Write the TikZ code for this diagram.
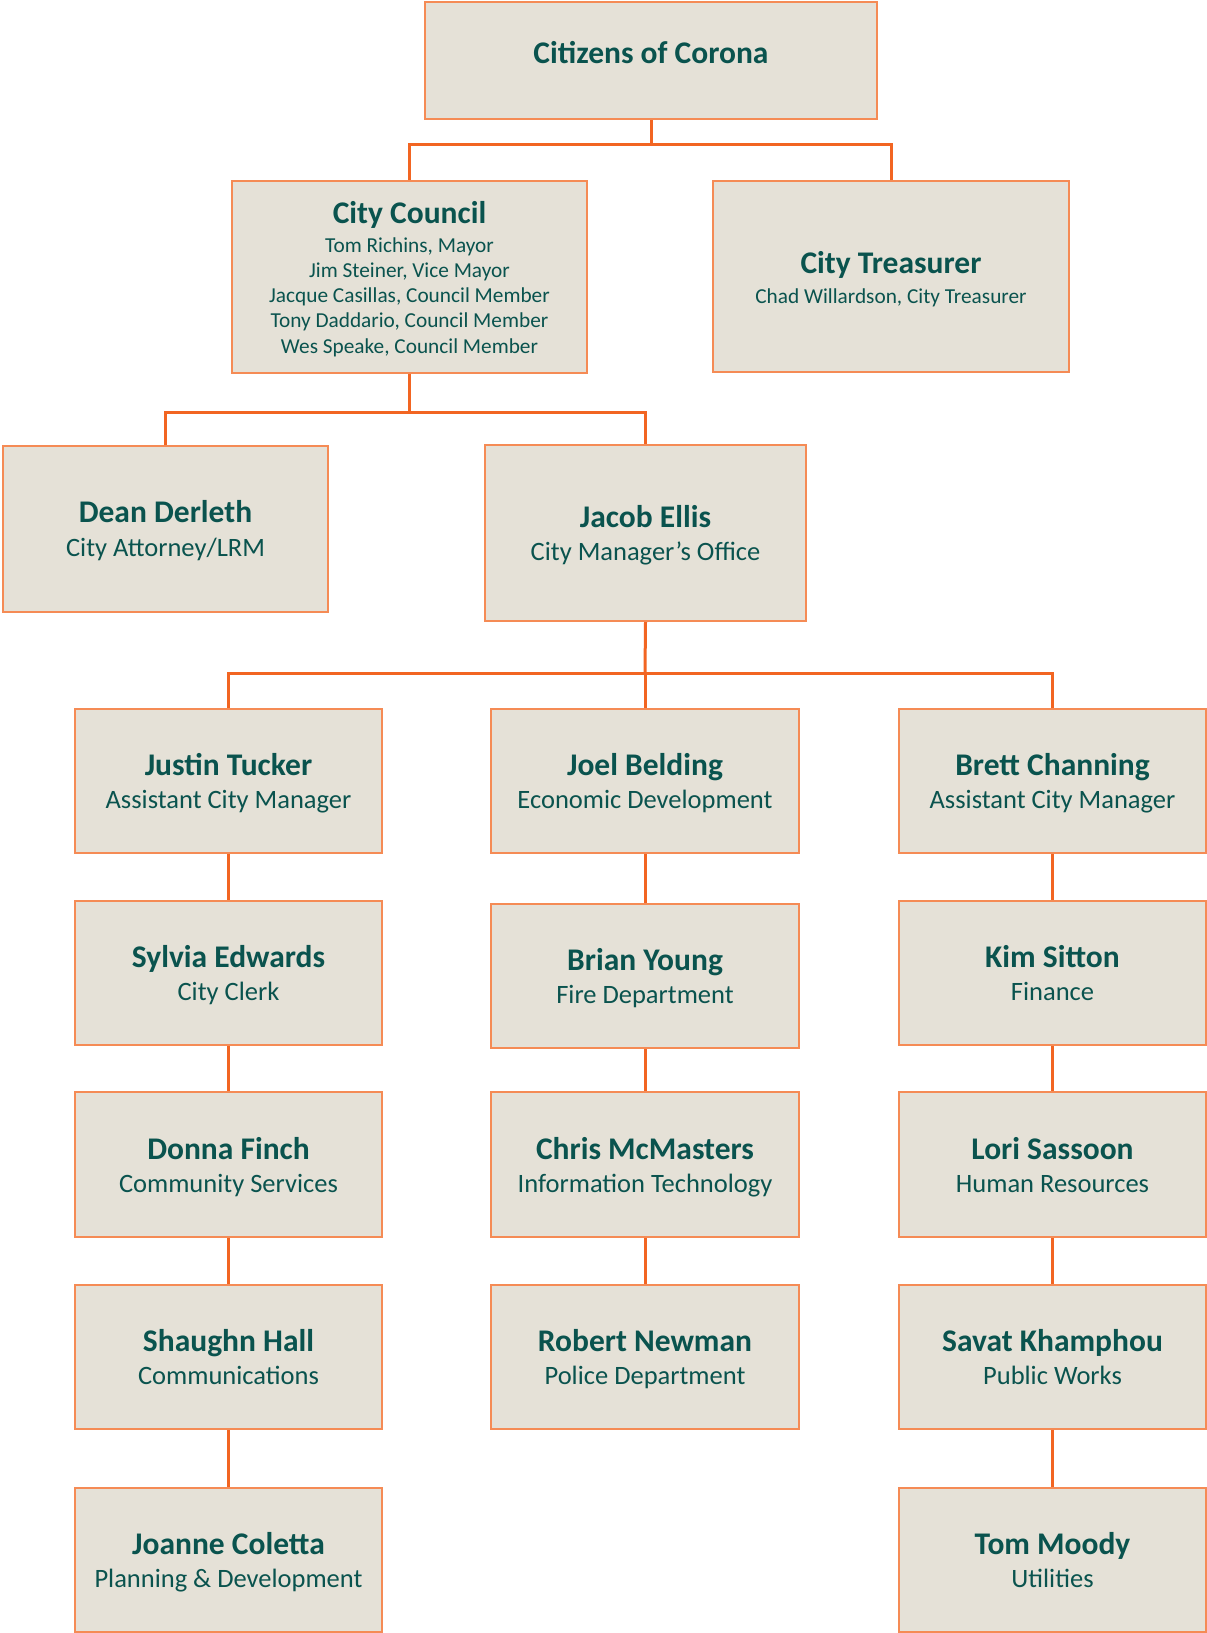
\documentclass[tikz,border=0pt]{standalone}
\usepackage{fontspec}
\setmainfont{Carlito}
\usetikzlibrary{calc}
\definecolor{boxfill}{HTML}{E5E1D7}
\definecolor{bordc}{HTML}{F58B55}
\definecolor{connc}{HTML}{F26522}
\definecolor{txtc}{HTML}{0A534E}
\begin{document}
\begin{tikzpicture}[x=1pt,y=-1pt,
  orgbox/.style={draw=bordc,line width=2pt,fill=boxfill,rectangle,inner sep=0pt,minimum width=#1},
  orgbox/.default=307pt,
  conn/.style={draw=connc,line width=3pt},
  ttl/.style={anchor=base,text=txtc,font=\fontsize{31.5}{36}\selectfont\bfseries,inner sep=0pt},
  sub/.style={anchor=base,text=txtc,font=\fontsize{26.5}{30}\selectfont,inner sep=0pt},
  mem/.style={anchor=base,text=txtc,font=\fontsize{21.3}{25}\selectfont,inner sep=0pt}]
\useasboundingbox[fill=white] (0,0) rectangle (1207,1633);

% boxes
\node[orgbox=452pt,minimum height=117pt] (cit) at (651,60.5) {};
\node[orgbox=355pt,minimum height=192pt] (cc) at (409.5,277) {};
\node[orgbox=356pt,minimum height=191pt] (ct) at (891,276.5) {};
\node[orgbox=325pt,minimum height=166pt] (dd) at (165.5,529) {};
\node[orgbox=321pt,minimum height=176pt] (je) at (645.5,533) {};

\node[orgbox,minimum height=144pt] (jt) at (228.5,781) {};
\node[orgbox,minimum height=144pt] (se) at (228.5,973) {};
\node[orgbox,minimum height=145pt] (df) at (228.5,1164.5) {};
\node[orgbox,minimum height=144pt] (sh) at (228.5,1357) {};
\node[orgbox,minimum height=144pt] (jc) at (228.5,1560) {};

\node[orgbox=308pt,minimum height=144pt] (jb) at (645,781) {};
\node[orgbox=308pt,minimum height=144pt] (by) at (645,976) {};
\node[orgbox=308pt,minimum height=145pt] (cm) at (645,1164.5) {};
\node[orgbox=308pt,minimum height=144pt] (rn) at (645,1357) {};

\node[orgbox=307pt,minimum height=144pt] (bc) at (1052.5,781) {};
\node[orgbox=307pt,minimum height=144pt] (ks) at (1052.5,973) {};
\node[orgbox=307pt,minimum height=145pt] (ls) at (1052.5,1164.5) {};
\node[orgbox=307pt,minimum height=144pt] (sk) at (1052.5,1357) {};
\node[orgbox=307pt,minimum height=144pt] (tm) at (1052.5,1560) {};

% connectors
\coordinate (b1) at (651,144);
\coordinate (b2) at (409.5,412);
\coordinate (b3) at (645,673);
\draw[conn] (cit.south) -- (b1);
\draw[conn] (cc.north) |- (b1) -| (ct.north);
\draw[conn] (cc.south) -- (b2);
\draw[conn] (dd.north) |- (b2) -| (je.north);
\draw[conn] (je.south) -- (b3);
\draw[conn] (jt.north) |- (b3) -| (bc.north);
\draw[conn] (b3) -- (jb.north);
\draw[conn] (jt.south) -- (se.north);
\draw[conn] (se.south) -- (df.north);
\draw[conn] (df.south) -- (sh.north);
\draw[conn] (sh.south) -- (jc.north);
\draw[conn] (jb.south) -- (by.north);
\draw[conn] (by.south) -- (cm.north);
\draw[conn] (cm.south) -- (rn.north);
\draw[conn] (bc.south) -- (ks.north);
\draw[conn] (ks.south) -- (ls.north);
\draw[conn] (ls.south) -- (sk.north);
\draw[conn] (sk.south) -- (tm.north);

% texts
\node[ttl] (cit-t) at ($(cit.center)+(0,2.5)$) {Citizens of Corona};

\node[ttl] (cc-t) at ($(cc.center)+(0,-54)$) {City Council};
\node[mem] (cc-1) at ($(cc.center)+(0,-25)$) {Tom Richins, Mayor};
\node[mem] (cc-2) at ($(cc.center)+(0,0.3)$) {Jim Steiner, Vice Mayor};
\node[mem] (cc-3) at ($(cc.center)+(0,25.6)$) {Jacque Casillas, Council Member};
\node[mem] (cc-4) at ($(cc.center)+(0,50.9)$) {Tony Daddario, Council Member};
\node[mem] (cc-5) at ($(cc.center)+(0,76.2)$) {Wes Speake, Council Member};

\node[ttl] (ct-t) at ($(ct.center)+(0,-3.5)$) {City Treasurer};
\node[mem] (ct-s) at ($(ct.center)+(0,26.5)$) {Chad Willardson, City Treasurer};

\node[ttl] (dd-t) at ($(dd.center)+(0,-7)$) {Dean Derleth};
\node[sub] (dd-s) at ($(dd.center)+(0,27)$) {City Attorney/LRM};

\node[ttl] (je-t) at ($(je.center)+(0,-6)$) {Jacob Ellis};
\node[sub] (je-s) at ($(je.center)+(0,27)$) {City Manager’s Office};

\node[ttl] (jt-t) at ($(jt.center)+(0,-5.5)$) {Justin Tucker};
\node[sub] (jt-s) at ($(jt.center)+(0,27.5)$) {Assistant City Manager};
\node[ttl] (se-t) at ($(se.center)+(0,-5.5)$) {Sylvia Edwards};
\node[sub] (se-s) at ($(se.center)+(0,27.5)$) {City Clerk};
\node[ttl] (df-t) at ($(df.center)+(0,-5.5)$) {Donna Finch};
\node[sub] (df-s) at ($(df.center)+(0,27.5)$) {Community Services};
\node[ttl] (sh-t) at ($(sh.center)+(0,-5.5)$) {Shaughn Hall};
\node[sub] (sh-s) at ($(sh.center)+(0,27.5)$) {Communications};
\node[ttl] (jc-t) at ($(jc.center)+(0,-5.5)$) {Joanne Coletta};
\node[sub] (jc-s) at ($(jc.center)+(0,27.5)$) {Planning \& Development};

\node[ttl] (jb-t) at ($(jb.center)+(0,-5.5)$) {Joel Belding};
\node[sub] (jb-s) at ($(jb.center)+(0,27.5)$) {Economic Development};
\node[ttl] (by-t) at ($(by.center)+(0,-5.5)$) {Brian Young};
\node[sub] (by-s) at ($(by.center)+(0,27.5)$) {Fire Department};
\node[ttl] (cm-t) at ($(cm.center)+(0,-5.5)$) {Chris McMasters};
\node[sub] (cm-s) at ($(cm.center)+(0,27.5)$) {Information Technology};
\node[ttl] (rn-t) at ($(rn.center)+(0,-5.5)$) {Robert Newman};
\node[sub] (rn-s) at ($(rn.center)+(0,27.5)$) {Police Department};

\node[ttl] (bc-t) at ($(bc.center)+(0,-5.5)$) {Brett Channing};
\node[sub] (bc-s) at ($(bc.center)+(0,27.5)$) {Assistant City Manager};
\node[ttl] (ks-t) at ($(ks.center)+(0,-5.5)$) {Kim Sitton};
\node[sub] (ks-s) at ($(ks.center)+(0,27.5)$) {Finance};
\node[ttl] (ls-t) at ($(ls.center)+(0,-5.5)$) {Lori Sassoon};
\node[sub] (ls-s) at ($(ls.center)+(0,27.5)$) {Human Resources};
\node[ttl] (sk-t) at ($(sk.center)+(0,-5.5)$) {Savat Khamphou};
\node[sub] (sk-s) at ($(sk.center)+(0,27.5)$) {Public Works};
\node[ttl] (tm-t) at ($(tm.center)+(0,-5.5)$) {Tom Moody};
\node[sub] (tm-s) at ($(tm.center)+(0,27.5)$) {Utilities};
\end{tikzpicture}
\end{document}
